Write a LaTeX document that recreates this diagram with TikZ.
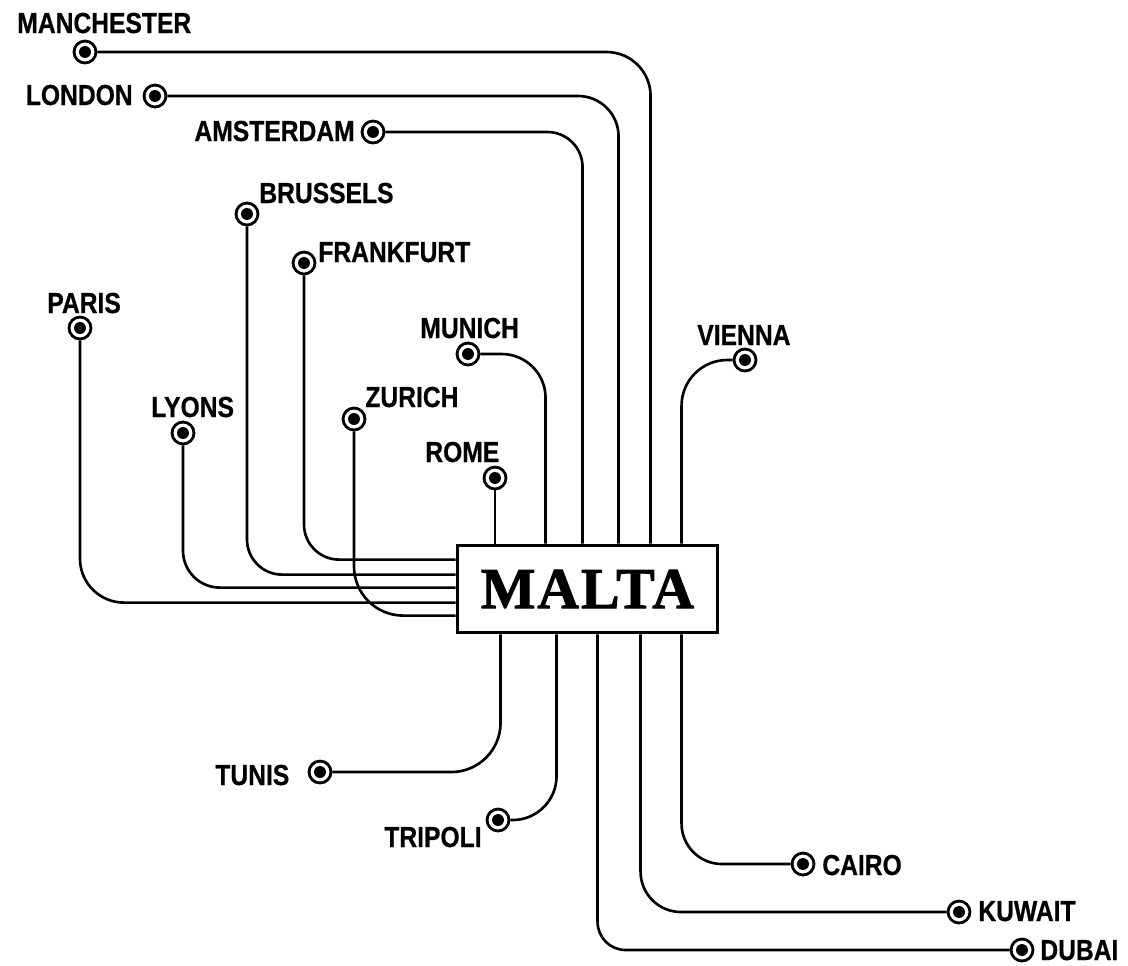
\documentclass[tikz,border=0pt]{standalone}
\usepackage{fontspec}
\setmainfont{Liberation Sans}[FakeStretch=0.85]
\newfontfamily\cityfont{Liberation Sans}[FakeStretch=0.85,FakeBold=0.6]
\newfontfamily\maltafont{Liberation Serif}[LetterSpace=3,FakeBold=1.5]
\usetikzlibrary{calc}
\tikzset{
  stn/.style={circle, draw, line width=1.6pt, fill=white, inner sep=0pt,
    minimum size=12.5pt},
  city/.style={inner sep=0pt, font=\cityfont\fontsize{16.5}{18}\selectfont\bfseries},
  route/.style={line width=1.5pt},
  hub/.style={draw, line width=1.7pt, fill=white, minimum width=148.5pt,
    minimum height=50pt, inner sep=0pt,
    font=\maltafont\fontsize{33}{36}\selectfont\bfseries}
}
\begin{document}
\begin{tikzpicture}[x=0.02cm, y=-0.02cm]
\useasboundingbox (0,0) rectangle (1128,965);
% hub
\node[hub] (malta) at (587.5,589) {MALTA};
% stations
\node[stn] (manc) at (85,52) {};
\node[stn] (lond) at (155,96) {};
\node[stn] (amst) at (373,132) {};
\node[stn] (brus) at (247,214) {};
\node[stn] (fran) at (304,263) {};
\node[stn] (pari) at (80,328) {};
\node[stn] (lyon) at (183,433) {};
\node[stn] (muni) at (468,354) {};
\node[stn] (zuri) at (354,419) {};
\node[stn] (rome) at (495,478) {};
\node[stn] (vien) at (745,360) {};
\node[stn] (tuni) at (320,772) {};
\node[stn] (trip) at (498,820) {};
\node[stn] (cair) at (803,864) {};
\node[stn] (kuwa) at (959,912) {};
\node[stn] (duba) at (1022,950) {};
\foreach \n in {manc,lond,amst,brus,fran,pari,lyon,muni,zuri,rome,vien,tuni,trip,cair,kuwa,duba}
  \fill (\n.center) circle (3.4pt);
% labels
\node[city, anchor=base west] (lmanc) at (17,33) {MANCHESTER};
\node[city, anchor=base east] (llond) at (133,105) {LONDON};
\node[city, anchor=base east] (lamst) at (355,141) {AMSTERDAM};
\node[city, anchor=base west] (lbrus) at (259,203) {BRUSSELS};
\node[city, anchor=base west] (lfran) at (318,262) {FRANKFURT};
\node[city, anchor=base west] (lpari) at (47,313) {PARIS};
\node[city, anchor=base west] (llyon) at (151,417) {LYONS};
\node[city, anchor=base west] (lmuni) at (420,338) {MUNICH};
\node[city, anchor=base west] (lzuri) at (365,407) {ZURICH};
\node[city, anchor=base west] (lrome) at (425,462) {ROME};
\node[city, anchor=base west] (lvien) at (697,345) {VIENNA};
\node[city, anchor=base west] (ltuni) at (215,785) {TUNIS};
\node[city, anchor=base west] (ltrip) at (384,847) {TRIPOLI};
\node[city, anchor=base west] (lcair) at (822,875) {CAIRO};
\node[city, anchor=base west] (lkuwa) at (978,921) {KUWAIT};
\node[city, anchor=base west] (lduba) at (1040,960) {DUBAI};
% routes from the north
\draw[route, rounded corners=25pt] (manc) -| ($(malta.north west)+(195,0)$);
\draw[route, rounded corners=23pt] (lond) -| ($(malta.north west)+(163,0)$);
\draw[route, rounded corners=20pt] (amst) -| ($(malta.north west)+(127,0)$);
\draw[route, rounded corners=25pt] (muni) -| ($(malta.north west)+(90,0)$);
\draw[route, rounded corners=26pt] (vien) -| ($(malta.north west)+(226,0)$);
\draw[route] (rome) -- (rome |- malta.north);
% routes from the west
\draw[route, rounded corners=20pt] (fran) |- ($(malta.north west)+(0,16)$);
\draw[route, rounded corners=20pt] (brus) |- ($(malta.north west)+(0,31)$);
\draw[route, rounded corners=21pt] (lyon) |- ($(malta.north west)+(0,44)$);
\draw[route, rounded corners=25pt] (pari) |- ($(malta.north west)+(0,59)$);
\draw[route, rounded corners=28pt] (zuri) |- ($(malta.north west)+(0,72)$);
% routes to the south
\draw[route, rounded corners=28pt] (tuni) -| ($(malta.south west)+(45,0)$);
\draw[route, rounded corners=25pt] (trip) -| ($(malta.south west)+(101,0)$);
\draw[route, rounded corners=16pt] (duba) -| ($(malta.south west)+(142,0)$);
\draw[route, rounded corners=23pt] (kuwa) -| ($(malta.south west)+(185,0)$);
\draw[route, rounded corners=23pt] (cair) -| ($(malta.south west)+(226,0)$);
\end{tikzpicture}
\end{document}
